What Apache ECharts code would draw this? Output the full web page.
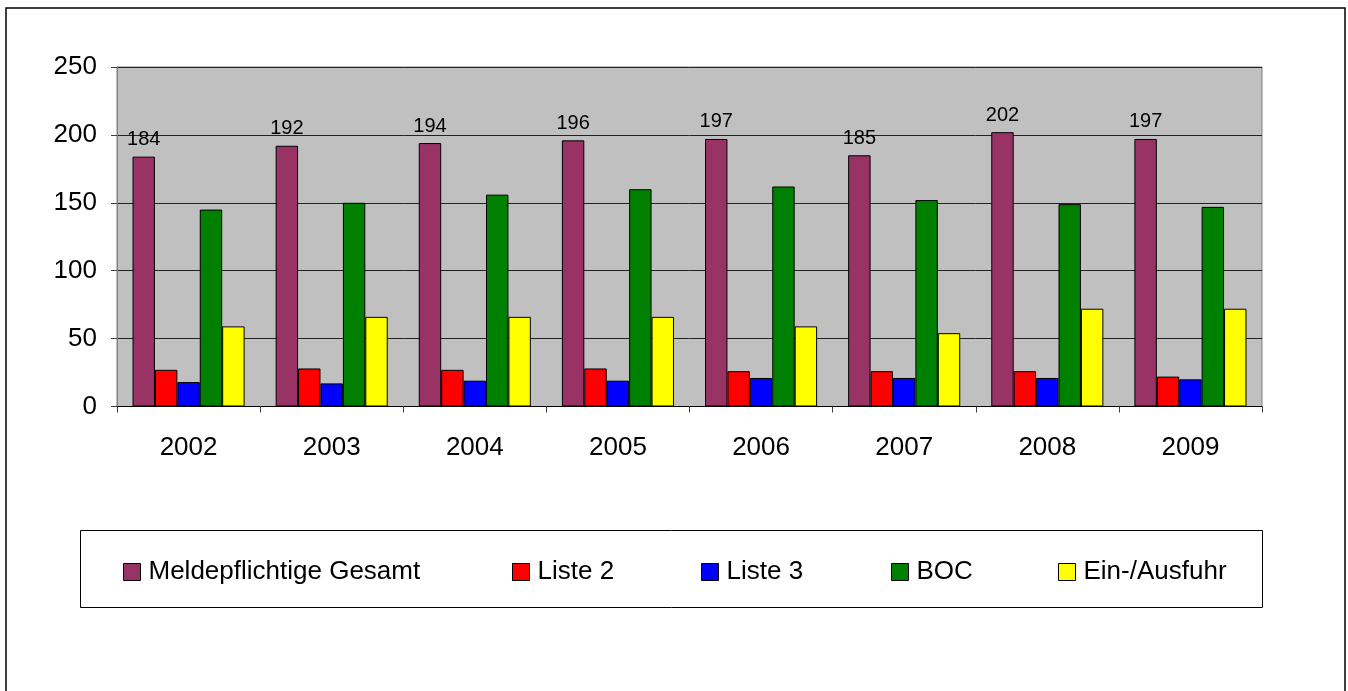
<!DOCTYPE html>
<html>
<head>
<meta charset="utf-8">
<script src="https://cdn.jsdelivr.net/npm/echarts@6/dist/echarts.min.js"></script>
<style>
html,body{margin:0;padding:0;background:#fff;}
#c{width:1348px;height:691px;}
</style>
</head>
<body>
<div id="c"></div>
<script>
const years = ['2002','2003','2004','2005','2006','2007','2008','2009'];
const seriesNames = ['Meldepflichtige Gesamt','Liste 2','Liste 3','BOC','Ein-/Ausfuhr'];
const meldepflichtige = [184,192,194,196,197,185,202,197];
const liste2 = [27,28,27,28,26,26,26,22];
const liste3 = [18,17,19,19,21,21,21,20];
const boc = [145,150,156,160,162,152,149,147];
const einAusfuhr = [59,66,66,66,59,54,72,72];
const yTicks = [0,50,100,150,200,250];
const colors = ['#993366','#FF0000','#0000FF','#008000','#FFFF00'];

const FONT = '"Liberation Sans", Arial, sans-serif';
const allData = [meldepflichtige, liste2, liste3, boc, einAusfuhr];
const legendLeft = [123, 512, 701, 891, 1058];

const chart = echarts.init(document.getElementById('c'), null, {renderer:'canvas'});
const series = seriesNames.map((n,i)=>({
  name:n,
  type:'bar',
  data: allData[i],
  barGap:'0%',
  barCategoryGap:'21.7%',
  itemStyle:{color:colors[i], borderColor:'#000', borderWidth:1},
  label: i===0 ? {show:true, position:'top', distance:7, color:'#000', fontSize:20, fontFamily:FONT} : {show:false},
  emphasis:{disabled:true},
  animation:false
}));

chart.setOption({
  animation:false,
  backgroundColor:'#fff',
  textStyle:{fontFamily:FONT},
  graphic:[
    {type:'rect', shape:{x:6, y:8, width:1339, height:700}, style:{fill:'none', stroke:'#000', lineWidth:1.5}, silent:true, z:-10},
    {type:'rect', shape:{x:80.5, y:530.5, width:1182, height:77}, style:{fill:'#fff', stroke:'#000', lineWidth:1}, silent:true, z:-5}
  ],
  legend: seriesNames.map((n,i)=>({
    data:[n],
    left: legendLeft[i],
    top: 559,
    padding:0,
    itemWidth:17,
    itemHeight:17,
    icon:'rect',
    selectedMode:false,
    itemStyle:{borderColor:'#000', borderWidth:1},
    textStyle:{fontSize:26, color:'#000', fontFamily:FONT, padding:[0,0,0,3]}
  })),
  grid:{left:117, top:67, right:86, bottom:284.5, show:true, backgroundColor:'#C0C0C0', borderColor:'#808080', borderWidth:1, containLabel:false},
  xAxis:{
    type:'category',
    data: years,
    axisLine:{show:true, lineStyle:{color:'#000', width:1}},
    axisTick:{show:true, length:6, lineStyle:{color:'#404040'}},
    axisLabel:{fontSize:26, color:'#000', margin:28, fontFamily:FONT}
  },
  yAxis:{
    type:'value',
    min: yTicks[0],
    max: yTicks[yTicks.length-1],
    interval: 50,
    axisLine:{show:true, lineStyle:{color:'#808080'}},
    axisTick:{show:true, length:6, lineStyle:{color:'#404040'}},
    axisLabel:{fontSize:26, color:'#000', margin:20, fontFamily:FONT, padding:[4,0,0,0]},
    splitLine:{show:true, lineStyle:{color:'#222', width:1}}
  },
  series: series
});
</script>
</body>
</html>
